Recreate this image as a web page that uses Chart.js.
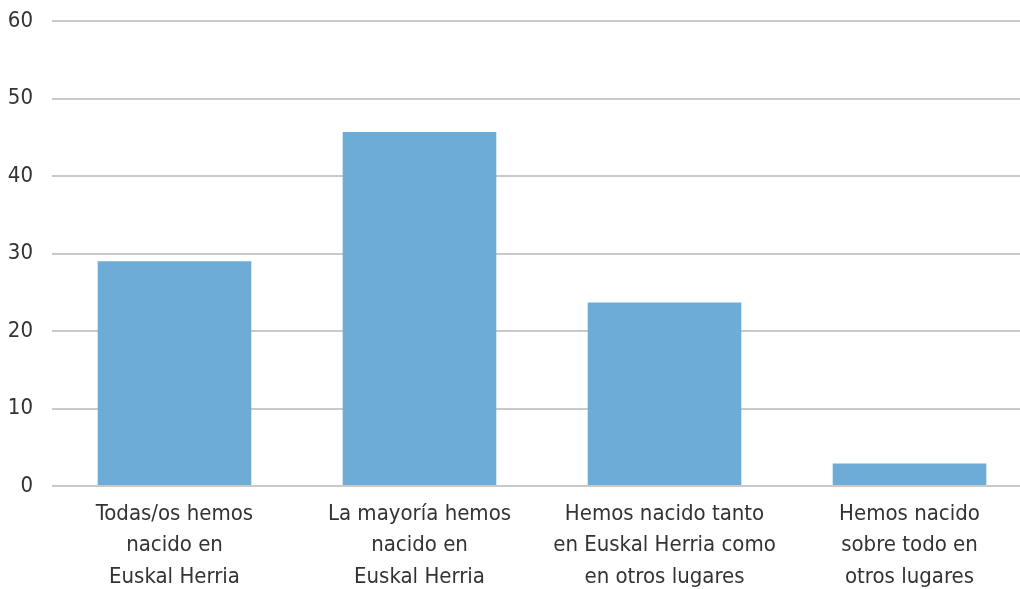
<!DOCTYPE html>
<html>
<head>
<meta charset="utf-8">
<script src="https://cdn.jsdelivr.net/npm/chart.js@4/dist/chart.umd.min.js"></script>
<style>
  html, body { margin: 0; padding: 0; background: #fff; overflow: hidden; }
  #wrap { width: 1020px; height: 589px; overflow: hidden; }
  #box { width: 1032px; height: 616px; margin-top: -11px; }
</style>
</head>
<body>
<div id="wrap"><div id="box"><canvas id="bars"></canvas></div></div>
<script>
// categories, one array of lines per bar
const categories = [
    ['Todas/os hemos', 'nacido en', 'Euskal Herria'],
    ['La mayoría hemos', 'nacido en', 'Euskal Herria'],
    ['Hemos nacido tanto', 'en Euskal Herria como', 'en otros lugares'],
    ['Hemos nacido', 'sobre todo en', 'otros lugares']
];
// percentages
const values = [29.0, 45.7, 23.7, 2.9];
const yTicks = [0, 10, 20, 30, 40, 50, 60];

const font = "'Liberation Sans Narrow', 'DejaVu Sans Condensed', sans-serif";

let ctx = document.querySelector('#bars').getContext('2d');
let chart = new Chart(ctx, {
    type: 'bar',
    data: {
        labels: categories,
        datasets: [{
            data: values,
            backgroundColor: '#6eacd8',
            borderWidth: 0,
            barPercentage: 0.627,
            categoryPercentage: 1
        }]
    },
    options: {
        responsive: true,
        maintainAspectRatio: false,
        animation: false,
        layout: { padding: { left: 0, top: -4, right: 0, bottom: 0 } },
        plugins: {
            legend: { display: false },
            tooltip: { enabled: false }
        },
        scales: {
            x: {
                grid: { display: false, drawTicks: false },
                border: { display: false },
                ticks: {
                    color: '#333',
                    padding: 12,
                    maxRotation: 0,
                    autoSkip: false,
                    font: { family: font, size: 22, lineHeight: 1.44 }
                }
            },
            y: {
                min: 0,
                max: 60,
                afterBuildTicks: axis => { axis.ticks = yTicks.map(v => ({ value: v })); },
                afterFit: axis => { axis.width = 52; },
                grid: { color: '#c9c9c9', lineWidth: 2, drawTicks: false },
                border: { display: false },
                ticks: {
                    color: '#333',
                    padding: 19,
                    font: { family: font, size: 22 }
                }
            }
        }
    }
});
</script>
</body>
</html>
